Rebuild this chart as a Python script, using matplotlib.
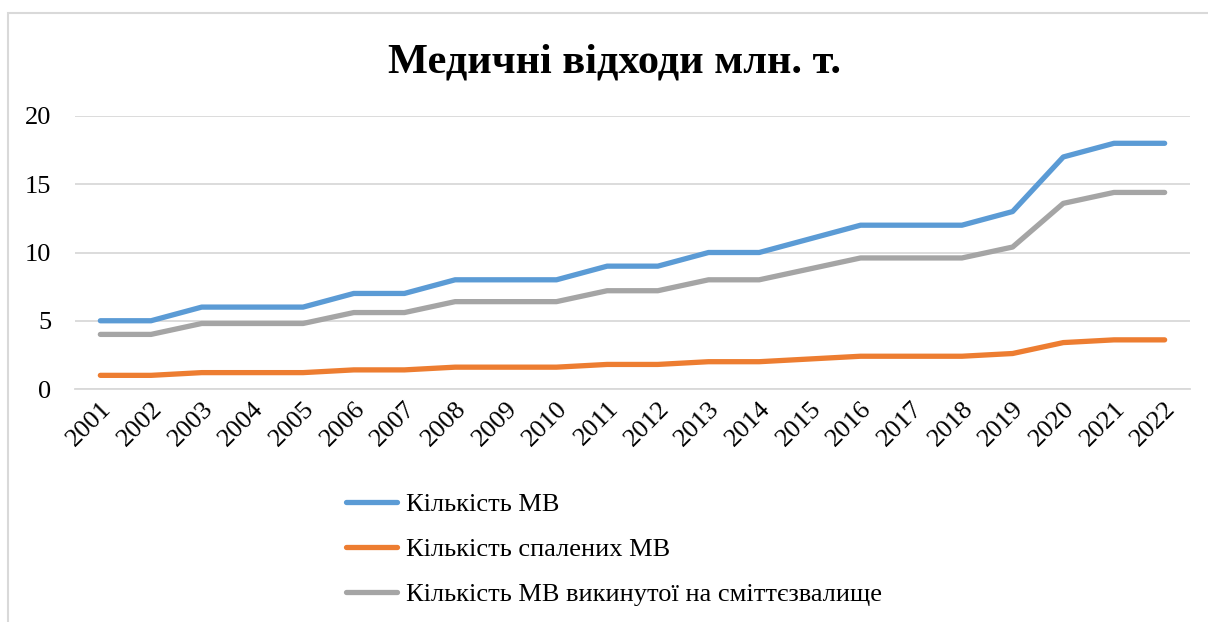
#!/usr/bin/env python3
"""
Medical waste volumes (mln t) by year, 2001-2022.
"""
import matplotlib
matplotlib.use("Agg")
import matplotlib.pyplot as plt
from matplotlib.patches import Rectangle

years = [str(y) for y in range(2001, 2023)]
total_mw = [5, 5, 6, 6, 6, 7, 7, 8, 8, 8, 9, 9, 10, 10, 11, 12, 12, 12, 13, 17, 18, 18]
burned_mw = [1, 1, 1.2, 1.2, 1.2, 1.4, 1.4, 1.6, 1.6, 1.6, 1.8, 1.8, 2, 2, 2.2,
             2.4, 2.4, 2.4, 2.6, 3.4, 3.6, 3.6]
landfill_mw = [4, 4, 4.8, 4.8, 4.8, 5.6, 5.6, 6.4, 6.4, 6.4, 7.2, 7.2, 8, 8, 8.8,
               9.6, 9.6, 9.6, 10.4, 13.6, 14.4, 14.4]

series = [
    ("Кількість МВ", total_mw, "#5B9BD5"),
    ("Кількість спалених МВ", burned_mw, "#ED7D31"),
    ("Кількість МВ викинутої на сміттєзвалище", landfill_mw, "#A5A5A5"),
]

plt.rcParams["font.family"] = ["Liberation Serif", "DejaVu Serif"]

W, H = 1208, 622
fig = plt.figure(figsize=(W / 100, H / 100), dpi=100)

# chart frame
fig.patches.append(Rectangle((8 / W, -0.1), 1.2, 1 - 13 / H + 0.1,
                             transform=fig.transFigure, fill=False,
                             edgecolor="#D9D9D9", linewidth=1.5))

ax = fig.add_axes([75 / W, 1 - 389 / H, (1190 - 75) / W, (389 - 116) / H])
x = list(range(len(years)))
handles = []
for label, vals, color in series:
    h, = ax.plot(x, vals, color=color, linewidth=3.8, solid_capstyle="round",
                 solid_joinstyle="round", label=label, zorder=3)
    handles.append(h)

ax.set_xlim(-0.5, len(years) - 0.5)
ax.set_ylim(0, 20)
ax.set_yticks([0, 5, 10, 15, 20])
ax.yaxis.grid(True, color="#D9D9D9", linewidth=1.3)
ax.set_axisbelow(True)
for s in ["top", "right", "left"]:
    ax.spines[s].set_visible(False)
ax.spines["bottom"].set_color("#D9D9D9")
ax.spines["bottom"].set_linewidth(1.3)
ax.tick_params(axis="both", length=0, labelsize=19, colors="black")
ax.tick_params(axis="y", pad=17)
ax.set_xticks(x)
ax.set_xticklabels(years, rotation=45, ha="right", rotation_mode="anchor")
ax.tick_params(axis="x", pad=6)

fig.text(614 / W, 1 - 62 / H, "Медичні відходи млн. т.", ha="center",
         va="center", fontsize=30.5, fontweight="bold")

fig.legend(handles=handles, loc="upper left", bbox_to_anchor=(335 / W, 1 - 482 / H),
           frameon=False, fontsize=19, handlelength=1.95, handletextpad=0.35,
           labelspacing=0.82, borderaxespad=0)

fig.savefig("out.png", dpi=100)
